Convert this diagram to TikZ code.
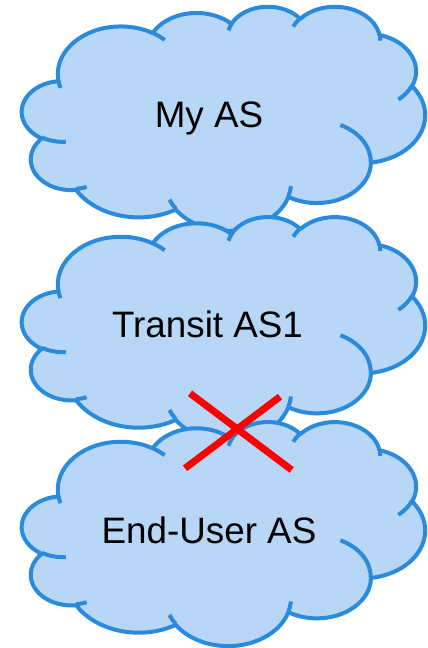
\documentclass[tikz,border=0pt]{standalone}
\usepackage{fontspec}
\setmainfont{Liberation Sans}
\definecolor{cloudline}{RGB}{42,138,220}
\definecolor{cloudfill}{RGB}{184,214,245}
\definecolor{crossred}{RGB}{255,0,0}
\tikzset{
  declare function={wrapd(\d)=\d-360*round(\d/360);
                    ptang(\a,\b,\t)=\t+wrapd(atan2(\a*sin(\t),\b*cos(\t))-\t);},
  ooarc/.style n args={4}{insert path={arc[x radius=#1, y radius=#2,
      start angle={ptang(#1,#2,#3)}, end angle={ptang(#1,#2,#3+#4)}]}},
  cloudbody/.style={draw=cloudline, fill=cloudfill, line width=4pt, line join=round},
  cloudcrease/.style={draw=cloudline, line width=4pt},
  cloudlabel/.style={anchor=base, inner sep=0pt, font=\fontsize{36.8}{40}\selectfont},
  crossline/.style={draw=crossred, line width=7pt},
}
\newcommand\mycloud[2]{%
\begin{scope}[shift={(#1,#2)}, xscale=0.9329, yscale=0.5185]
\path[cloudbody] (39.00,143.70)
  [ooarc={67.53}{91.90}{-190.48748}{123.78053}]
  [ooarc={53.33}{72.67}{-144.10238}{89.94523}]
  [ooarc={43.65}{59.45}{-145.80792}{99.72302}]
  [ooarc={48.57}{65.95}{-130.98607}{117.24173}]
  [ooarc={53.33}{72.73}{-78.70888}{109.02692}]
  [ooarc={67.75}{92.20}{-46.26725}{130.269}]
  [ooarc={57.85}{78.67}{0.62502}{114.03333}]
  [ooarc={67.52}{92.15}{22.4516}{115.17255}]
  [ooarc={77.20}{105.43}{66.24263}{75.71102}]
  [ooarc={43.60}{59.18}{-274.94208}{146.73557}]
  [ooarc={43.45}{59.45}{-246.8285}{152.51885}]
  -- cycle;
\path[cloudcrease]
  (46.93,261.77) [ooarc={43.45}{59.45}{86.742}{26.4295}]
  (69.28,348.99) [ooarc={43.60}{59.18}{73.61047}{11.44747}]
  (164.78,390.90) [ooarc={67.52}{92.15}{137.62415}{14.0811}]
  (288.27,347.51) [ooarc={67.52}{92.15}{6.45327}{15.99835}]
  (341.29,229.54) [ooarc={57.85}{78.67}{-70.29235}{70.91737}]
  (417.98,153.54) [ooarc={53.33}{72.73}{30.31803}{27.7515}]
  (383.24,54.26) [ooarc={48.57}{65.95}{-13.74433}{14.8589}]
  (290.78,39.52) [ooarc={48.57}{65.95}{-149.18145}{18.19537}]
  (221.41,47.20) [ooarc={43.65}{59.45}{-163.49427}{17.68635}]
  (140.00,51.92) [ooarc={67.53}{91.90}{-66.70695}{12.31935}]
  (41.27,157.89) [ooarc={67.53}{91.90}{157.65435}{11.85817}];
\end{scope}}
\begin{document}
\begin{tikzpicture}[x=1pt, y=-1pt]
\useasboundingbox (0,0) rectangle (428,648);
\mycloud{22}{6}
\node[cloudlabel] (myas) at (209,127.7) {My AS};
\mycloud{22}{216.3}
\node[cloudlabel] (transit) at (207.5,337.7) {Transit AS1};
\mycloud{22}{421.3}
\node[cloudlabel] (enduser) at (209,543.3) {End-User AS};
\coordinate (xa1) at (190,393.3);
\coordinate (xa2) at (291.7,470);
\coordinate (xb1) at (280,396.7);
\coordinate (xb2) at (185,468.3);
\draw[crossline] (xa1) -- (xa2);
\draw[crossline] (xb1) -- (xb2);
\end{tikzpicture}
\end{document}
